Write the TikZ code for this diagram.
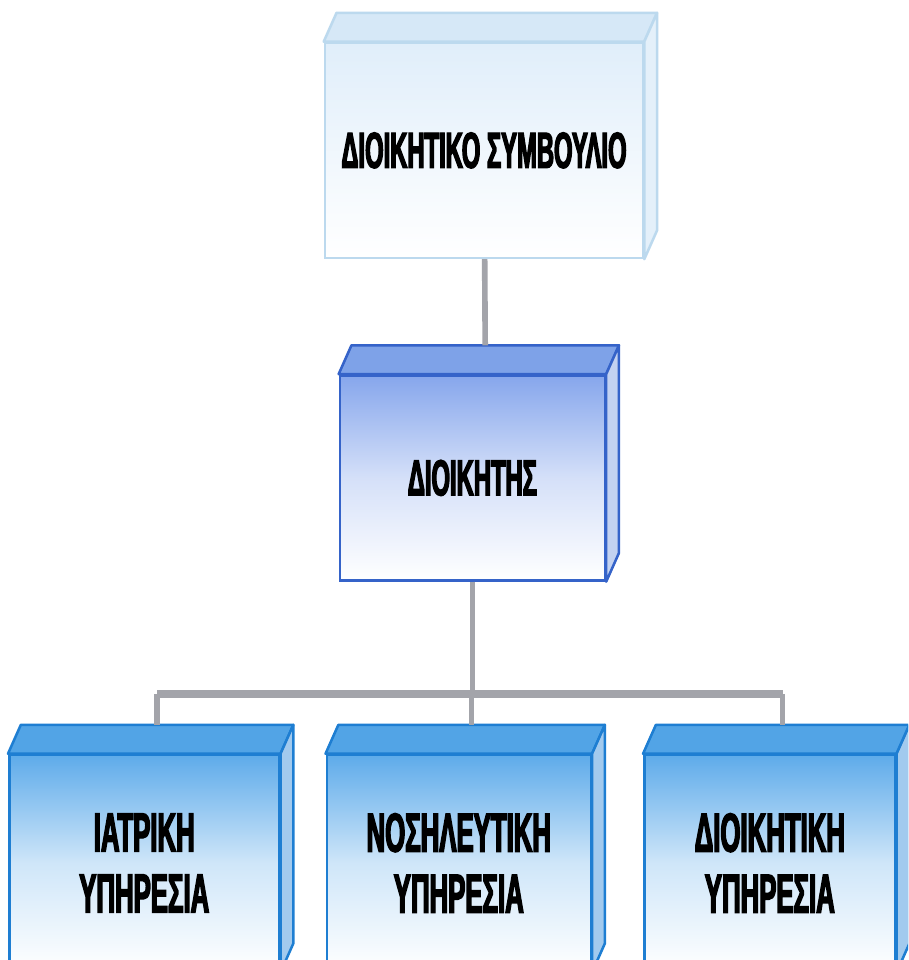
\documentclass[tikz,border=0pt]{standalone}
\usepackage{fontspec}
\newfontfamily\boxfont{Liberation Sans}[FakeStretch=0.47,BoldFeatures={FakeBold=2.5}]
\usetikzlibrary{positioning}
\definecolor{paleedge}{HTML}{BCD9EE}
\definecolor{paletop}{HTML}{D6E8F7}
\definecolor{paleside}{HTML}{E4F0FA}
\definecolor{palefront}{HTML}{E0EEFA}
\definecolor{diredge}{HTML}{3563C9}
\definecolor{dirtop}{HTML}{7EA2E8}
\definecolor{dirside}{HTML}{C3D2F1}
\definecolor{dirfront}{HTML}{86A6EC}
\definecolor{servedge}{HTML}{1E7ED2}
\definecolor{servtop}{HTML}{52A4E6}
\definecolor{servside}{HTML}{A2CAEE}
\definecolor{servfront}{HTML}{5EABEA}
\definecolor{linkgray}{HTML}{A3A4AA}

% top and side faces of a box, plus the middle of its back top edge
\newcommand{\cubefaces}[4]{%
  \filldraw[fill=#2, draw=#4, line width=1.8pt, line join=round]
    (#1.north west) -- ++(0.32,0.72) -- ([shift={(0.32,0.72)}]#1.north east) -- (#1.north east) -- cycle;
  \filldraw[fill=#3, draw=#4, line width=1.8pt, line join=round]
    (#1.north east) -- ++(0.32,0.72) -- ([shift={(0.32,0.72)}]#1.south east) -- (#1.south east) -- cycle;
  \coordinate (#1-back) at ([shift={(0.32,0.72)}]#1.north);
}

\begin{document}
\begin{tikzpicture}[
  front/.style = {draw, line width=1.8pt, inner sep=0pt, align=center, text=black},
  board/.style = {front, draw=paleedge, top color=palefront, bottom color=white,
                  minimum width=7.95cm, minimum height=5.375cm,
                  font=\boxfont\bfseries\fontsize{36}{40}\selectfont},
  director/.style = {front, draw=diredge, top color=dirfront, bottom color=white, middle color=dirfront!35!white,
                  minimum width=6.625cm, minimum height=5.125cm,
                  font=\boxfont\bfseries\fontsize{36}{40}\selectfont},
  service/.style = {front, draw=servedge, top color=servfront, bottom color=white, middle color=servfront!30!white,
                  minimum height=5.4cm,
                  font=\boxfont\bfseries\fontsize{39}{43.4}\selectfont},
  link/.style = {draw=linkgray, line width=4pt},
  bar/.style = {draw=linkgray, line width=5.5pt}]
  \clip (0,0) rectangle (22.7,24);
  \fill[white] (0,0) rectangle (22.7,24);

  \node[board] (board) at (12.1,20.24) {ΔΙΟΙΚΗΤΙΚΟ ΣΥΜΒΟΥΛΙΟ};
  \node[director] (dir) [below=2.875cm of board, xshift=-2.9mm] {ΔΙΟΙΚΗΤΗΣ};
  \node[service, minimum width=6.6cm] (nurse) [below=4.3cm of dir, xshift=-3.4mm] {ΝΟΣΗΛΕΥΤΙΚΗ\\ΥΠΗΡΕΣΙΑ};
  \node[service, minimum width=6.75cm] (med) [left=1.125cm of nurse] {ΙΑΤΡΙΚΗ\\ΥΠΗΡΕΣΙΑ};
  \node[service, minimum width=6.275cm] (adm) [right=1.275cm of nurse] {ΔΙΟΙΚΗΤΙΚΗ\\ΥΠΗΡΕΣΙΑ};

  \cubefaces{board}{paletop}{paleside}{paleedge}
  \cubefaces{dir}{dirtop}{dirside}{diredge}
  \cubefaces{med}{servtop}{servside}{servedge}
  \cubefaces{nurse}{servtop}{servside}{servedge}
  \cubefaces{adm}{servtop}{servside}{servedge}

  \coordinate (split) at ([yshift=-2.8cm]dir.south);

  \draw[link] (board) -- (dir-back);
  \draw[link] (dir) -- (split);
  \draw[link] (med-back) -- (med-back |- split);
  \draw[link] (nurse-back) -- (nurse-back |- split);
  \draw[link] (adm-back) -- (adm-back |- split);
  \draw[bar] (med-back |- split) -- (adm-back |- split);
\end{tikzpicture}
\end{document}
